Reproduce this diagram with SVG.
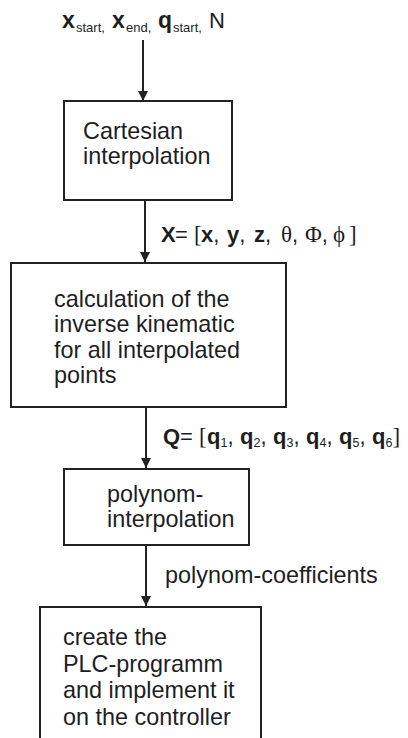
<svg xmlns="http://www.w3.org/2000/svg" width="408" height="738" viewBox="0 0 408 738">
<style>
.box{fill:#fff;stroke:#222;stroke-width:2}
.t{font-family:"Liberation Sans",Arial,sans-serif;font-size:23.4px;fill:#1e1e1e}
.l{font-family:"Liberation Sans",Arial,sans-serif;font-size:22px;fill:#1e1e1e}
.b{font-weight:bold}
.s{font-size:12.5px}
.g{font-family:"Liberation Serif","Times New Roman",serif;font-size:23px}
.c{stroke:#222;stroke-width:2;fill:none;marker-end:url(#ah)}
</style>
<defs>
<marker id="ah" markerUnits="userSpaceOnUse" markerWidth="12" markerHeight="14" refX="10" refY="5" orient="auto">
<path d="M0,0 L10,5 L0,10 Z" fill="#222"/>
</marker>
</defs>
<rect width="408" height="738" fill="#fff"/>
<g id="connectors">
<line class="c" x1="143" y1="40" x2="143" y2="101"/>
<line class="c" x1="145" y1="201" x2="145" y2="262"/>
<line class="c" x1="146" y1="408" x2="146" y2="468"/>
<line class="c" x1="146" y1="546" x2="146" y2="606"/>
</g>
<g id="input">
<text class="l" y="28"><tspan class="b" x="62" style="font-size:23px">x</tspan><tspan class="s" x="76" dy="4" style="font-size:13px">start</tspan><tspan class="s" style="font-size:13px">,</tspan><tspan class="b" x="112" dy="-4" style="font-size:23px">x</tspan><tspan class="s" x="126" dy="4" style="font-size:13px">end</tspan><tspan class="s" style="font-size:13px">,</tspan><tspan class="b" x="158" dy="-4" style="font-size:23px">q</tspan><tspan class="s" x="173" dy="4" style="font-size:13px">start</tspan><tspan class="s" style="font-size:13px">,</tspan><tspan x="209" dy="-4" style="font-size:22px">N</tspan></text>
</g>
<g id="node1">
<rect class="box" x="64" y="101" width="168" height="99"/>
<text class="t" x="83" y="139">Cartesian</text>
<text class="t" x="83" y="164">interpolation</text>
</g>
<g id="label-x">
<text class="l" y="242"><tspan class="b" x="161">X</tspan><tspan x="175">=</tspan><tspan class="g" x="194">[</tspan><tspan class="b" x="201">x</tspan><tspan>,</tspan><tspan class="b" x="227">y</tspan><tspan>,</tspan><tspan class="b" x="254">z</tspan><tspan>,</tspan><tspan class="g" x="281">θ</tspan><tspan>,</tspan><tspan class="g" x="305">Φ</tspan><tspan>,</tspan><tspan class="g" x="333">ϕ</tspan><tspan class="g" x="349">]</tspan></text>
</g>
<g id="node2">
<rect class="box" x="11" y="263" width="275" height="144"/>
<text class="t" x="54" y="307">calculation of the</text>
<text class="t" x="54" y="332">inverse kinematic</text>
<text class="t" x="54" y="358">for all interpolated</text>
<text class="t" x="54" y="383">points</text>
</g>
<g id="label-q">
<text class="l" y="444"><tspan class="b" x="163">Q</tspan><tspan x="180">=</tspan><tspan class="g" x="199">[</tspan><tspan class="b" x="207">q</tspan><tspan class="s" dy="3">1</tspan><tspan dy="-3">,</tspan><tspan class="b" x="240">q</tspan><tspan class="s" dy="3">2</tspan><tspan dy="-3">,</tspan><tspan class="b" x="273">q</tspan><tspan class="s" dy="3">3</tspan><tspan dy="-3">,</tspan><tspan class="b" x="306">q</tspan><tspan class="s" dy="3">4</tspan><tspan dy="-3">,</tspan><tspan class="b" x="339">q</tspan><tspan class="s" dy="3">5</tspan><tspan dy="-3">,</tspan><tspan class="b" x="372">q</tspan><tspan class="s" dy="3">6</tspan><tspan class="g" dy="-3">]</tspan></text>
</g>
<g id="node3">
<rect class="box" x="64" y="469" width="185" height="76"/>
<text class="t" x="107" y="502">polynom-</text>
<text class="t" x="107" y="527">interpolation</text>
</g>
<g id="label-p">
<text class="t" x="165" y="583">polynom-coefficients</text>
</g>
<g id="node4">
<rect class="box" x="40" y="607" width="221" height="140"/>
<text class="t" x="63" y="645">create the</text>
<text class="t" x="63" y="672">PLC-programm</text>
<text class="t" x="63" y="698">and implement it</text>
<text class="t" x="63" y="725">on the controller</text>
</g>
</svg>
